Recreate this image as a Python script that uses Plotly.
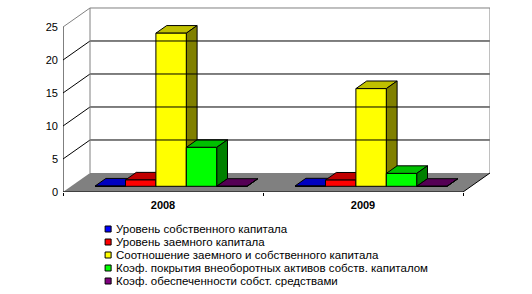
import plotly.graph_objects as go

categories = ["2008", "2009"]
series_names = [
    "Уровень собственного капитала",
    "Уровень заемного капитала",
    "Соотношение заемного и собственного капитала",
    "Коэф. покрытия внеоборотных активов собств. капиталом",
    "Коэф. обеспеченности собст. средствами",
]
values_2008 = [0.04, 0.96, 23.2, 5.9, 0.0]
values_2009 = [0.06, 0.94, 14.8, 1.95, 0.0]
front_colors = ["#0000FF", "#FF0000", "#FFFF00", "#00FF00", "#800080"]
top_colors = ["#0000C0", "#C00000", "#C0C000", "#00C000", "#550055"]
side_colors = ["#000080", "#800000", "#808000", "#008000", "#400040"]
y_ticks = [0, 5, 10, 15, 20, 25]

values = [values_2008, values_2009]

# pseudo-3D geometry (data units)
DX = 0.135          # depth offset along x (category units)
DY = 2.88           # depth offset along y (value units)
F1, F2 = 0.3, 0.7   # bar depth placement
GROUP = 0.76
BW = GROUP / len(series_names)
NC = len(categories)
YMAX = y_ticks[-1]

fig = go.Figure()

# floor
fig.add_trace(go.Scatter(
    x=[0, NC, NC + DX, DX, 0], y=[0, 0, DY, DY, 0],
    fill="toself", fillcolor="#808080", mode="lines", line=dict(width=0),
    hoverinfo="skip", showlegend=False))

shapes = []
# back wall / side wall gridlines
for v in y_ticks[1:]:
    col = "#808080" if v == YMAX else "black"
    shapes.append(dict(type="line", xref="x", yref="y", x0=0, y0=v, x1=DX, y1=v + DY,
                       line=dict(color=col, width=1)))
    shapes.append(dict(type="line", xref="x", yref="y", x0=DX, y0=v + DY, x1=NC + DX, y1=v + DY,
                       line=dict(color=col, width=1)))
shapes.append(dict(type="line", xref="x", yref="y", x0=DX, y0=DY, x1=DX, y1=YMAX + DY,
                   line=dict(color="#808080", width=1)))
shapes.append(dict(type="line", xref="x", yref="y", x0=NC + DX, y0=DY, x1=NC + DX, y1=YMAX + DY,
                   line=dict(color="#808080", width=1)))
# axis lines
shapes.append(dict(type="line", xref="x", yref="y", x0=0, y0=0, x1=0, y1=YMAX,
                   line=dict(color="black", width=1)))
shapes.append(dict(type="line", xref="x", yref="y", x0=0, y0=0, x1=NC, y1=0,
                   line=dict(color="black", width=1)))
shapes.append(dict(type="line", xref="x", yref="y", x0=NC, y0=0, x1=NC + DX, y1=DY,
                   line=dict(color="black", width=1)))

# bars
for j, name in enumerate(series_names):
    tx, ty, sx, sy, fx, fy = [], [], [], [], [], []
    for i in range(NC):
        v = values[i][j]
        x0 = i + (1 - GROUP) / 2 + j * BW
        x1 = x0 + BW
        a0, a1 = x0 + F1 * DX, x1 + F1 * DX
        b0, b1 = x0 + F2 * DX, x1 + F2 * DX
        yf, yb = F1 * DY, F2 * DY
        tx += [a0, a1, b1, b0, a0, None]
        ty += [yf + v, yf + v, yb + v, yb + v, yf + v, None]
        sx += [a1, b1, b1, a1, a1, None]
        sy += [yf, yb, yb + v, yf + v, yf, None]
        fx += [a0, a1, a1, a0, a0, None]
        fy += [yf, yf, yf + v, yf + v, yf, None]
    for xs, ys, c in ((tx, ty, top_colors[j]), (sx, sy, side_colors[j]), (fx, fy, front_colors[j])):
        fig.add_trace(go.Scatter(x=xs, y=ys, fill="toself", fillcolor=c, mode="lines",
                                 line=dict(color="black", width=1), name=name,
                                 hoverinfo="skip", showlegend=False))

# legend (manual)
annotations = []
for k, name in enumerate(series_names):
    yc = 229 + 13 * k
    shapes.append(dict(type="rect", xref="paper", yref="paper",
                       x0=(105 - 63) / 426, x1=(111 - 63) / 426,
                       y0=(294 - yc - 3 - 102) / 185, y1=(294 - yc + 3 - 102) / 185,
                       fillcolor=front_colors[k], line=dict(color="black", width=1)))
    annotations.append(dict(xref="paper", yref="paper", x=(114 - 63) / 426,
                            y=(294 - yc - 102) / 185, xanchor="left", yanchor="middle",
                            text=name, showarrow=False,
                            font=dict(family="Arial, Liberation Sans", size=11.5, color="black")))

fig.update_layout(
    width=532, height=294,
    margin=dict(l=63, r=42, t=7, b=102),
    paper_bgcolor="white", plot_bgcolor="white",
    shapes=shapes, annotations=annotations,
    showlegend=False,
    xaxis=dict(range=[0, NC + DX], showgrid=False, zeroline=False, showline=False,
               tickmode="array", tickvals=[i + 0.5 for i in range(NC)],
               ticktext=["<b>%s</b>" % c for c in categories], ticks="",
               ticklabelstandoff=5,
               tickfont=dict(family="Arial, Liberation Sans", size=11, color="black"),
               minor=dict(tickmode="array", tickvals=list(range(NC + 1)), ticks="outside",
                          ticklen=3, tickcolor="black", showgrid=False),
               fixedrange=True),
    yaxis=dict(range=[0, (192 - 7) / 6.6], showgrid=False, zeroline=False, showline=False,
               tickmode="array", tickvals=y_ticks, ticks="",
               ticklabelstandoff=4,
               tickfont=dict(family="Arial, Liberation Sans", size=11, color="black"),
               fixedrange=True),
)

fig.write_html("out.html")
